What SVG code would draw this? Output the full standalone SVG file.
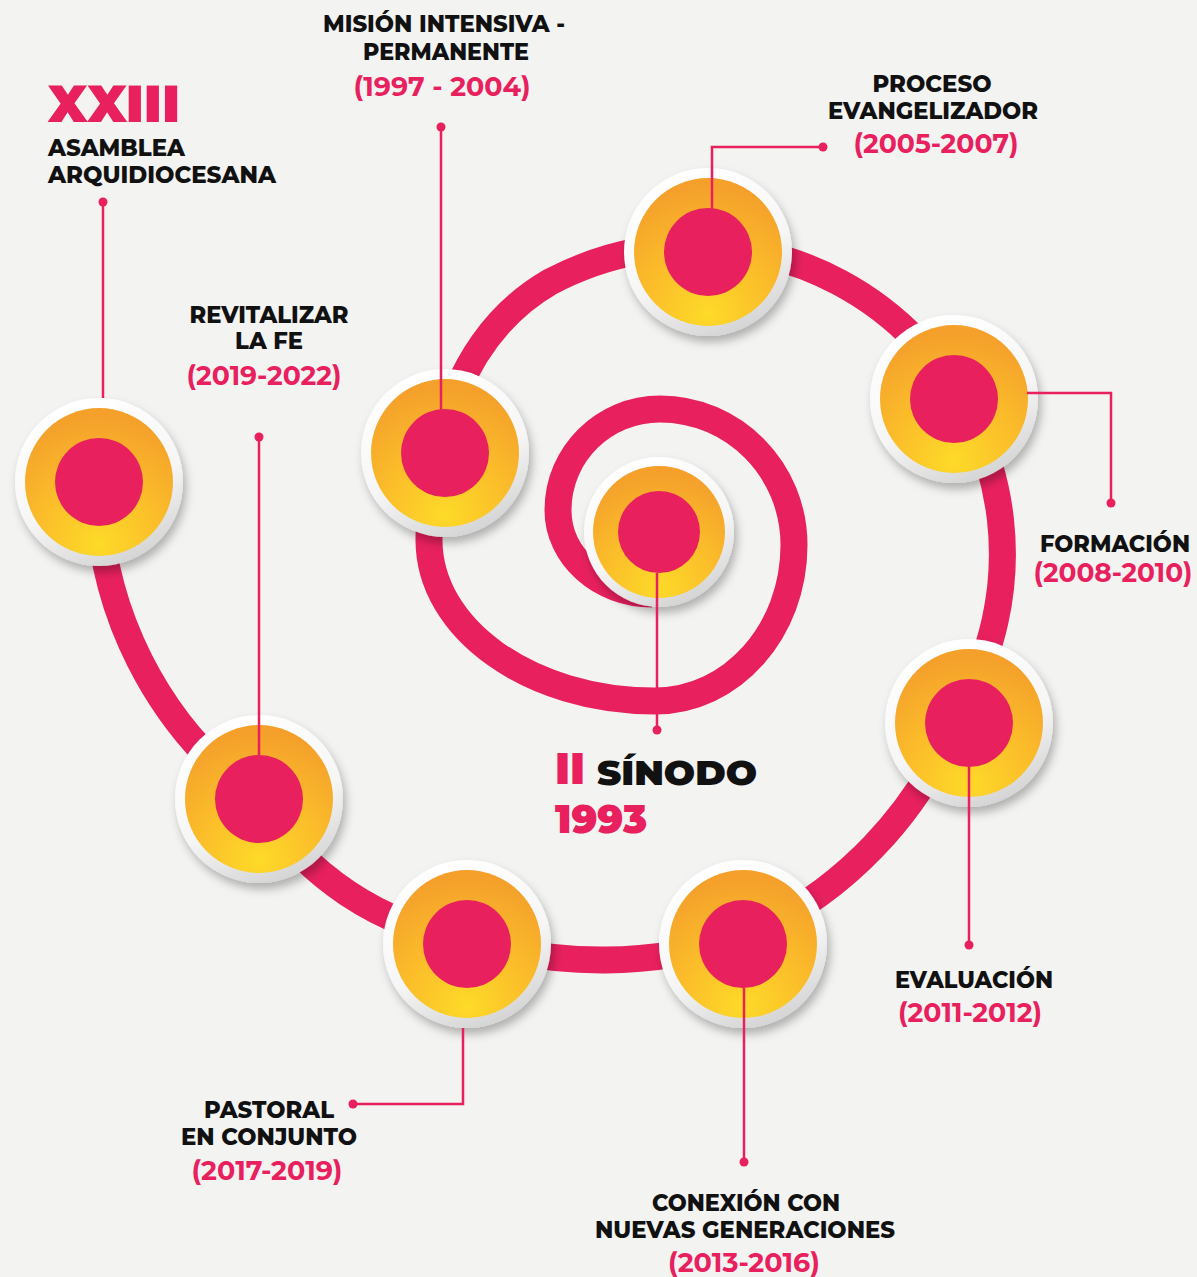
<svg xmlns="http://www.w3.org/2000/svg" width="1197" height="1277" viewBox="0 0 1197 1277">
<defs>
  <filter id="sh" x="-30%" y="-30%" width="170%" height="170%">
    <feDropShadow dx="3" dy="6" stdDeviation="5" flood-color="#000" flood-opacity="0.28"/>
  </filter>
  <linearGradient id="ring" x1="0.3" y1="0.05" x2="0.7" y2="1">
    <stop offset="0" stop-color="#ffffff"/>
    <stop offset="0.55" stop-color="#f6f6f6"/>
    <stop offset="1" stop-color="#d2d2d2"/>
  </linearGradient>
  <radialGradient id="orange" cx="0.5" cy="0.9" r="0.85" fx="0.5" fy="0.92">
    <stop offset="0" stop-color="#fdda28"/>
    <stop offset="0.5" stop-color="#fbbd2a"/>
    <stop offset="1" stop-color="#f4a02b"/>
  </radialGradient>
  <style>
    .ring{fill:url(#ring);filter:url(#sh)}
    .org{fill:url(#orange)}
    .pink{fill:#e8205e}
    .band{fill:none;stroke:#e8205e;stroke-width:27}
    .lead{fill:none;stroke:#e8205e;stroke-width:2.5}
    .dot{fill:#e8205e}
    .lbl{font-family:"Montserrat","Inter","Open Sans","Liberation Sans",sans-serif;font-weight:800;font-size:23px;fill:#111111;text-anchor:middle}
    .date{font-family:"Montserrat","Inter","Open Sans","Liberation Sans",sans-serif;font-weight:700;font-size:27px;fill:#e8205e;text-anchor:middle}
    .big{font-family:"Montserrat","Inter","Open Sans","Liberation Sans",sans-serif;font-weight:900}
  </style>
</defs>
<rect width="1197" height="1277" fill="#f3f3f1"/>

<g id="spiral">
  <path class="band" d="M 652 594 C 600 594 558 556 558 510 C 558 454 604 409 660 409 C 734 409 794 470 794 545 C 794 631 732 701 655 701 C 530 701 429 629 429 540 C 429 438 462 333 550 282 A 308 308 0 0 1 960 710 A 406 406 0 0 1 742 938 A 457 457 0 0 1 468 940 A 300 300 0 0 1 258 800 A 390 390 0 0 1 98 483"/>
</g>

<g id="node-sinodo">
  <circle class="ring" cx="659" cy="532" r="75"/>
  <circle class="org" cx="659" cy="532" r="66"/>
  <circle class="pink" cx="659" cy="532" r="41"/>
</g>
<g id="node-mision">
  <circle class="ring" cx="445" cy="453" r="84"/>
  <circle class="org" cx="445" cy="453" r="74"/>
  <circle class="pink" cx="445" cy="453" r="44"/>
</g>
<g id="node-proceso">
  <circle class="ring" cx="708" cy="252" r="84"/>
  <circle class="org" cx="708" cy="252" r="74"/>
  <circle class="pink" cx="708" cy="252" r="44"/>
</g>
<g id="node-formacion">
  <circle class="ring" cx="954" cy="399" r="84"/>
  <circle class="org" cx="954" cy="399" r="74"/>
  <circle class="pink" cx="954" cy="399" r="44"/>
</g>
<g id="node-evaluacion">
  <circle class="ring" cx="969" cy="723" r="84"/>
  <circle class="org" cx="969" cy="723" r="74"/>
  <circle class="pink" cx="969" cy="723" r="44"/>
</g>
<g id="node-conexion">
  <circle class="ring" cx="743" cy="944" r="84"/>
  <circle class="org" cx="743" cy="944" r="74"/>
  <circle class="pink" cx="743" cy="944" r="44"/>
</g>
<g id="node-pastoral">
  <circle class="ring" cx="467" cy="944" r="84"/>
  <circle class="org" cx="467" cy="944" r="74"/>
  <circle class="pink" cx="467" cy="944" r="44"/>
</g>
<g id="node-revitalizar">
  <circle class="ring" cx="259" cy="799" r="84"/>
  <circle class="org" cx="259" cy="799" r="74"/>
  <circle class="pink" cx="259" cy="799" r="44"/>
</g>
<g id="node-asamblea">
  <circle class="ring" cx="99" cy="482" r="84"/>
  <circle class="org" cx="99" cy="482" r="74"/>
  <circle class="pink" cx="99" cy="482" r="44"/>
</g>

<g id="connectors">
  <path class="lead" d="M 103 202 V 398"/>
  <circle class="dot" cx="103" cy="202" r="4.5"/>
  <path class="lead" d="M 259 437 V 755"/>
  <circle class="dot" cx="259" cy="437" r="4.5"/>
  <path class="lead" d="M 441 127 V 410"/>
  <circle class="dot" cx="441" cy="127" r="4.5"/>
  <path class="lead" d="M 823 147 H 712 V 209"/>
  <circle class="dot" cx="823" cy="147" r="4.5"/>
  <path class="lead" d="M 1027 393 H 1111 V 503"/>
  <circle class="dot" cx="1111" cy="503" r="4.5"/>
  <path class="lead" d="M 969 767 V 945"/>
  <circle class="dot" cx="969" cy="945" r="4.5"/>
  <path class="lead" d="M 744 988 V 1162"/>
  <circle class="dot" cx="744" cy="1162" r="4.5"/>
  <path class="lead" d="M 463 1028 V 1104 H 353"/>
  <circle class="dot" cx="353" cy="1104" r="4.5"/>
  <path class="lead" d="M 657 573 V 730"/>
  <circle class="dot" cx="657" cy="730" r="4.5"/>
</g>

<g id="labels">
  <text class="big" x="48" y="122" font-size="52" fill="#e8205e" textLength="132" lengthAdjust="spacingAndGlyphs">XXIII</text>
  <text class="lbl" x="48" y="156" style="text-anchor:start" textLength="137" lengthAdjust="spacingAndGlyphs">ASAMBLEA</text>
  <text class="lbl" x="48" y="183" style="text-anchor:start" textLength="228" lengthAdjust="spacingAndGlyphs">ARQUIDIOCESANA</text>

  <text class="lbl" x="269" y="323" textLength="159" lengthAdjust="spacingAndGlyphs">REVITALIZAR</text>
  <text class="lbl" x="269" y="349" textLength="68" lengthAdjust="spacingAndGlyphs">LA FE</text>
  <text class="date" x="264" y="385" textLength="155" lengthAdjust="spacingAndGlyphs">(2019-2022)</text>

  <text class="lbl" x="444" y="32" textLength="242" lengthAdjust="spacingAndGlyphs">MISIÓN INTENSIVA -</text>
  <text class="lbl" x="446" y="60" textLength="166" lengthAdjust="spacingAndGlyphs">PERMANENTE</text>
  <text class="date" x="442" y="96" textLength="177" lengthAdjust="spacingAndGlyphs">(1997 - 2004)</text>

  <text class="lbl" x="932" y="92" textLength="119" lengthAdjust="spacingAndGlyphs">PROCESO</text>
  <text class="lbl" x="933" y="119" textLength="210" lengthAdjust="spacingAndGlyphs">EVANGELIZADOR</text>
  <text class="date" x="936" y="153" textLength="165" lengthAdjust="spacingAndGlyphs">(2005-2007)</text>

  <text class="lbl" x="1115" y="552" textLength="150" lengthAdjust="spacingAndGlyphs">FORMACIÓN</text>
  <text class="date" x="1113" y="582" textLength="159" lengthAdjust="spacingAndGlyphs">(2008-2010)</text>

  <text class="lbl" x="974" y="988" textLength="158" lengthAdjust="spacingAndGlyphs">EVALUACIÓN</text>
  <text class="date" x="970" y="1022" textLength="144" lengthAdjust="spacingAndGlyphs">(2011-2012)</text>

  <text class="lbl" x="746" y="1211" font-size="22" textLength="188" lengthAdjust="spacingAndGlyphs">CONEXIÓN CON</text>
  <text class="lbl" x="745" y="1238" font-size="22" textLength="300" lengthAdjust="spacingAndGlyphs">NUEVAS GENERACIONES</text>
  <text class="date" x="744" y="1272" textLength="152" lengthAdjust="spacingAndGlyphs">(2013-2016)</text>

  <text class="lbl" x="269" y="1118" textLength="130" lengthAdjust="spacingAndGlyphs">PASTORAL</text>
  <text class="lbl" x="269" y="1145" textLength="176" lengthAdjust="spacingAndGlyphs">EN CONJUNTO</text>
  <text class="date" x="267" y="1180" textLength="151" lengthAdjust="spacingAndGlyphs">(2017-2019)</text>

  <text class="big" x="555" y="784" font-size="44" fill="#e8205e" textLength="30" lengthAdjust="spacingAndGlyphs">II</text>
  <text class="big" x="597" y="785" font-size="34" fill="#111111" textLength="160" lengthAdjust="spacingAndGlyphs">SÍNODO</text>
  <text class="big" x="555" y="833" font-size="40" fill="#e8205e" textLength="92" lengthAdjust="spacingAndGlyphs">1993</text>
</g>
</svg>
